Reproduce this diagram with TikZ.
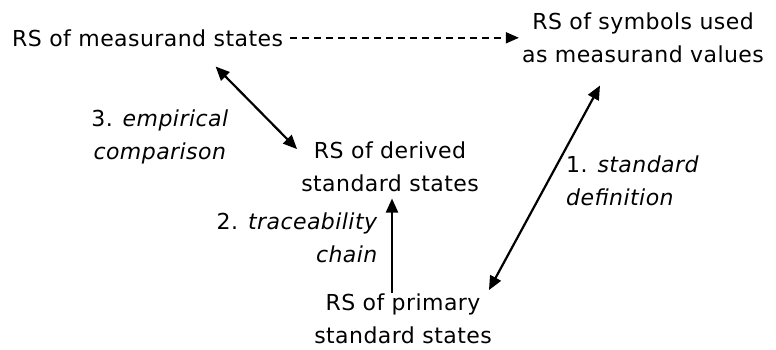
\documentclass[tikz,border=0pt]{standalone}
\usepackage{fontspec}
\setmainfont{DejaVu Sans}[LetterSpace=2]
\usetikzlibrary{arrows.meta,calc}
\tikzset{
  lbl/.style={inner sep=0pt, font=\fontsize{22pt}{33pt}\selectfont},
  note/.style={lbl},
  conn/.style={line width=2.2pt, black},
  onehead/.style={conn, -{Triangle[length=14pt,width=12pt]}},
  twohead/.style={conn, {Triangle[length=14pt,width=12pt]}-{Triangle[length=14pt,width=12pt]}},
  dashedhead/.style={line width=1.6pt, dash pattern=on 7pt off 5pt, -{Triangle[length=13pt,width=11pt]}}
}
\begin{document}
\begin{tikzpicture}[x=1pt,y=-1pt]
  \useasboundingbox (0,0) rectangle (776,349);

  % reference sets (base anchor = baseline of the last line)
  \node[lbl, anchor=base west] (ms) at (12,46) {RS of measurand states};
  \node[lbl, anchor=base, align=center] (sym) at (643,62) {RS of symbols used\\as measurand values};
  \node[lbl, anchor=base, align=center] (der) at (390,191) {RS of derived\\standard states};
  \node[lbl, anchor=base, align=center] (pri) at (403,343) {RS of primary\\standard states};

  % relation labels
  \node[note, anchor=base, align=center] (emp) at (160,159) {3. \textit{empirical}\\\textit{comparison}};
  \node[note, anchor=base east, align=right] (tr) at (378,262) {2. \textit{traceability}\\\textit{chain}};
  \node[note, anchor=base west, align=left] (sd) at (566,205) {1. \textit{standard}\\\textit{definition}};

  % connectors
  \draw[dashedhead] ([xshift=7pt]ms.east) -- ([xshift=-3pt]ms.east -| sym.west);
  \draw[twohead] ($(ms.south)+(68,20)$) -- ($(der.north west)+(-4,8)$);
  \draw[onehead] ([xshift=-11pt]pri.north) -- ([xshift=-11pt,yshift=-7pt]pri.north |- der.south);
  \draw[twohead] ($(pri.north east)+(-3,-3)$) -- ($(sym.south)+(-43,23)$);
\end{tikzpicture}
\end{document}
